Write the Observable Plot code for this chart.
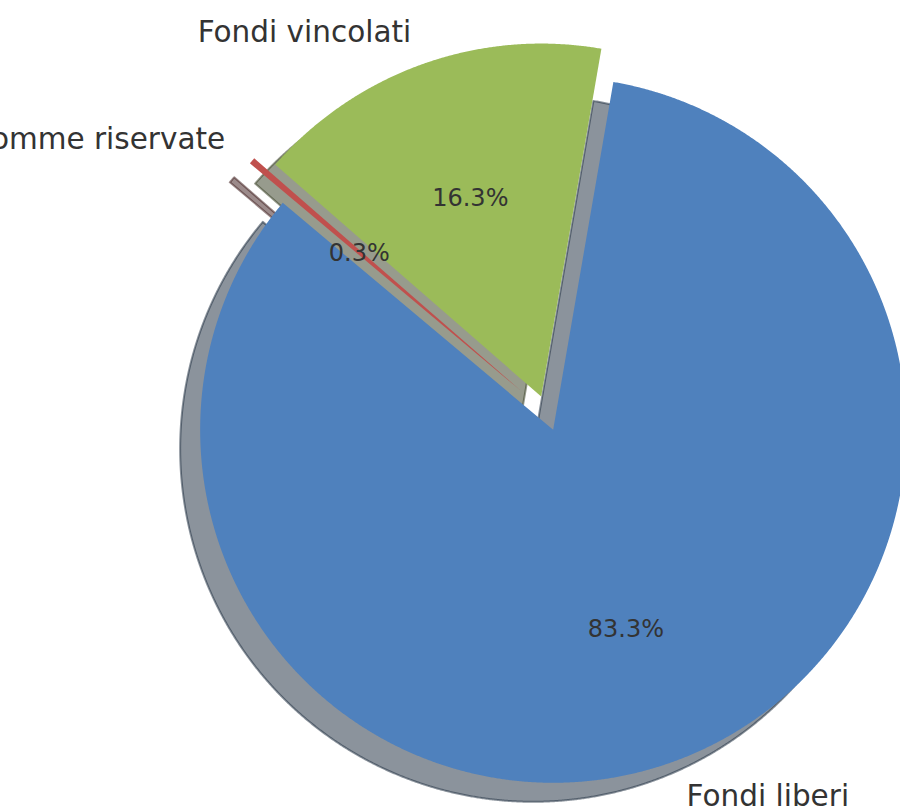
<!DOCTYPE html>
<html><head><meta charset="utf-8">
<script src="https://cdn.jsdelivr.net/npm/d3@7"></script>
<script src="https://cdn.jsdelivr.net/npm/@observablehq/plot@0.6"></script>
<style>html,body{margin:0;padding:0;background:#fff;overflow:hidden} svg{display:block}</style>
</head><body><div id="chart"></div>
<script>
// ---- data ----
const labels = ["Fondi liberi", "Fondi vincolati", "Somme riservate"];
const values = [83.3, 16.3, 0.3];
const colors = ["#4F81BD", "#9BBB59", "#C0504D"];
const explode = [0.05, 0.05, 0.1];

// ---- layout ----
const W = 900, H = 809;
const R = 353;                 // pixel radius
const CX = 546.6, CY = 412.7;  // pixel pie centre
const startAngle = 140;        // degrees, counter-clockwise
const labelDistance = 1.1, pctDistance = 0.6;
const shadowDx = -20, shadowDy = 19;

const total = d3.sum(values);
let acc = startAngle;
const wedges = values.map((v, i) => {
  const t1 = acc, t2 = acc + v / total * 360;
  acc = t2;
  const tm = (t1 + t2) / 2 * Math.PI / 180;
  const cx = explode[i] * Math.cos(tm), cy = explode[i] * Math.sin(tm);
  const pts = [{x: cx, y: cy}];
  const n = Math.max(2, Math.ceil((t2 - t1) / 0.2));
  for (let k = 0; k <= n; k++) {
    const a = (t1 + (t2 - t1) * k / n) * Math.PI / 180;
    pts.push({x: cx + Math.cos(a), y: cy + Math.sin(a)});
  }
  const lx = cx + labelDistance * Math.cos(tm), ly = cy + labelDistance * Math.sin(tm);
  const px = cx + pctDistance * Math.cos(tm), py = cy + pctDistance * Math.sin(tm);
  return {i, label: labels[i], value: v, color: colors[i], pts, lx, ly, px, py,
          pct: d3.format(".1f")(v) + "%"};
});

function shade(c) {
  const r = d3.rgb(c);
  return d3.rgb(r.r * 0.3, r.g * 0.3, r.b * 0.3).formatHex();
}

const font = "DejaVu Sans, Verdana, sans-serif";
const marks = [];
// shadows (all drawn below the wedges)
for (const w of wedges) {
  const s = shade(w.color);
  marks.push(Plot.line(w.pts, {x: "x", y: "y", curve: "linear-closed",
    fill: s, fillOpacity: 0.5, stroke: s, strokeOpacity: 0.5, strokeWidth: 2,
    dx: shadowDx, dy: shadowDy}));
}
// wedges
for (const w of wedges) {
  marks.push(Plot.line(w.pts, {x: "x", y: "y", curve: "linear-closed",
    fill: w.color, stroke: "none"}));
}
// labels
const leftLabels = wedges.filter(w => w.lx >= 0);
const rightLabels = wedges.filter(w => w.lx < 0);
marks.push(Plot.text(leftLabels, {x: "lx", y: "ly", text: "label", textAnchor: "start",
  lineAnchor: "middle", dy: 2, fontSize: 29.5, fontFamily: font, fill: "#333333"}));
marks.push(Plot.text(rightLabels, {x: "lx", y: "ly", text: "label", textAnchor: "end",
  lineAnchor: "middle", dy: 2, fontSize: 29.5, fontFamily: font, fill: "#333333"}));
marks.push(Plot.text(wedges, {x: "px", y: "py", text: "pct", textAnchor: "middle",
  lineAnchor: "middle", dy: 1, fontSize: 24, fontFamily: font, fill: "#333333"}));

const chart = Plot.plot({
  width: W, height: H, margin: 0,
  x: {domain: [-CX / R, (W - CX) / R], axis: null},
  y: {domain: [(CY - H) / R, CY / R], axis: null},
  style: {background: "#fff", overflow: "hidden"},
  marks
});
document.getElementById("chart").appendChild(chart);
</script>
</body></html>
